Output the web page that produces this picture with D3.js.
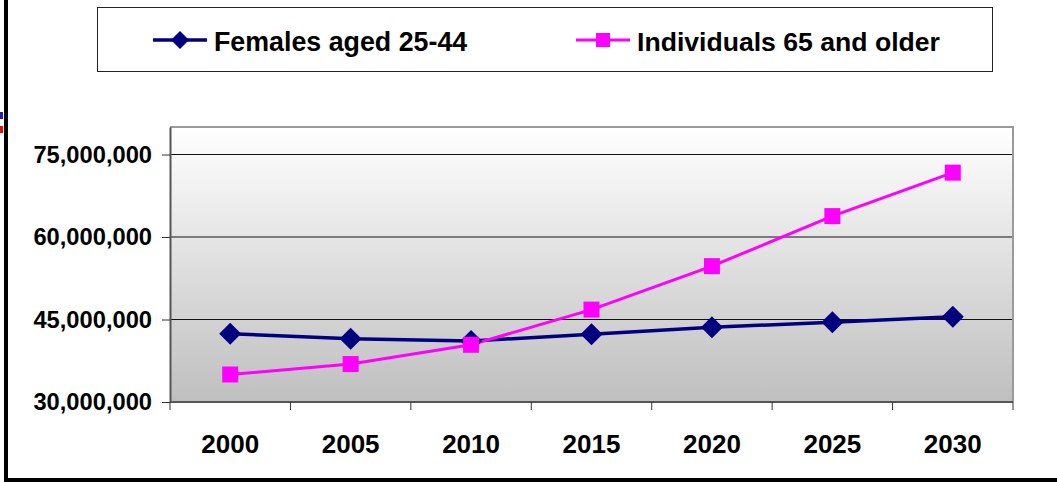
<!DOCTYPE html>
<html>
<head>
<meta charset="utf-8">
<script src="https://cdn.jsdelivr.net/npm/d3@7"></script>
<style>
  html, body { margin: 0; padding: 0; background: #ffffff; }
  svg { display: block; font-family: "Liberation Sans", Arial, sans-serif; }
</style>
</head>
<body>
<svg id="chart" width="1057" height="482"></svg>
<script>
// Population projections, United States
const years = ["2000", "2005", "2010", "2015", "2020", "2025", "2030"];
const females25to44 = [42.4e6, 41.5e6, 41.1e6, 42.3e6, 43.6e6, 44.5e6, 45.5e6];
const aged65plus = [35.0e6, 36.9e6, 40.4e6, 46.8e6, 54.7e6, 63.8e6, 71.7e6];
const yTickValues = [30e6, 45e6, 60e6, 75e6];
const seriesNames = ["Females aged 25-44", "Individuals 65 and older"];

const svg = d3.select("#chart");
const W = 1057, H = 482;
const plot = { left: 170, right: 1013, top: 127, bottom: 402 };

const x = d3.scaleBand().domain(years).range([plot.left, plot.right]).padding(0);
const y = d3.scaleLinear().domain([30e6, 80e6]).range([plot.bottom, plot.top]);

// Frame pieces along the page edges
svg.append("rect").attr("x", 4).attr("y", 0).attr("width", 4).attr("height", H).attr("fill", "#000");
svg.append("rect").attr("x", 4).attr("y", 478).attr("width", W - 4).attr("height", 4).attr("fill", "#000");
svg.append("rect").attr("x", 0).attr("y", 112).attr("width", 3).attr("height", 7).attr("fill", "#1f1fa0");
svg.append("rect").attr("x", 0).attr("y", 126).attr("width", 3).attr("height", 7).attr("fill", "#e01010");

// Plot background gradient
const defs = svg.append("defs");
const grad = defs.append("linearGradient").attr("id", "bg").attr("x1", 0).attr("y1", 0).attr("x2", 0).attr("y2", 1);
grad.append("stop").attr("offset", "0%").attr("stop-color", "#ffffff");
grad.append("stop").attr("offset", "100%").attr("stop-color", "#bfbfbf");

svg.append("rect")
  .attr("x", plot.left).attr("y", plot.top)
  .attr("width", plot.right - plot.left).attr("height", plot.bottom - plot.top)
  .attr("fill", "url(#bg)");

// Gridlines
svg.append("g").selectAll("line").data(yTickValues.filter(d => d > 30e6)).join("line")
  .attr("x1", plot.left).attr("x2", plot.right)
  .attr("y1", d => y(d)).attr("y2", d => y(d))
  .attr("stroke", "#111").attr("stroke-width", 1);

// Plot border (top and right)
svg.append("path")
  .attr("d", `M${plot.left},${plot.top}H${plot.right}V${plot.bottom}`)
  .attr("fill", "none").attr("stroke", "#9a9a9a").attr("stroke-width", 2);

// Y axis
const yAxis = svg.append("g").attr("transform", `translate(${plot.left},0)`)
  .call(d3.axisLeft(y).tickValues(yTickValues).tickFormat(d3.format(",")).tickSizeInner(8).tickSizeOuter(0).tickPadding(10));
yAxis.select(".domain").attr("stroke", "#555").attr("stroke-width", 2);
yAxis.selectAll(".tick line").attr("stroke", "#333");
yAxis.selectAll(".tick text")
  .attr("font-size", "23.7px").attr("font-weight", "bold").attr("fill", "#000")
  .attr("font-family", "'Liberation Sans', Arial, sans-serif");

// X axis: ticks sit on category boundaries
const xAxisG = svg.append("g").attr("transform", `translate(0,${plot.bottom})`);
xAxisG.append("line").attr("x1", plot.left).attr("x2", plot.right).attr("y1", 0).attr("y2", 0)
  .attr("stroke", "#555").attr("stroke-width", 2);
const boundaries = years.map(d => x(d)).concat([x(years[years.length - 1]) + x.bandwidth()]);
xAxisG.selectAll("line.tk").data(boundaries).join("line").attr("class", "tk")
  .attr("x1", d => d).attr("x2", d => d).attr("y1", 0).attr("y2", 8)
  .attr("stroke", "#333").attr("stroke-width", 1);
xAxisG.selectAll("text").data(years).join("text")
  .attr("x", d => x(d) + x.bandwidth() / 2).attr("y", 51)
  .attr("text-anchor", "middle")
  .attr("font-size", "26px").attr("font-weight", "bold").attr("fill", "#000")
  .text(d => d);

// Series lines and markers
const cx = d => x(d) + x.bandwidth() / 2;
const line = d3.line().x((d, i) => cx(years[i])).y(d => y(d));

svg.append("path").datum(females25to44).attr("d", line)
  .attr("fill", "none").attr("stroke", "#000080").attr("stroke-width", 3.5);
svg.append("path").datum(aged65plus).attr("d", line)
  .attr("fill", "none").attr("stroke", "#ff00ff").attr("stroke-width", 3);

const diamond = r => `M0,${-r}L${r},0L0,${r}L${-r},0Z`;

svg.append("g").selectAll("path").data(females25to44).join("path")
  .attr("transform", (d, i) => `translate(${cx(years[i])},${y(d)})`)
  .attr("d", diamond(11)).attr("fill", "#000080");

svg.append("g").selectAll("rect").data(aged65plus).join("rect")
  .attr("x", (d, i) => cx(years[i]) - 8).attr("y", d => y(d) - 8)
  .attr("width", 16).attr("height", 16).attr("fill", "#ff00ff");

// Legend
const legend = svg.append("g");
legend.append("rect").attr("x", 97.5).attr("y", 7.5).attr("width", 895).attr("height", 64)
  .attr("fill", "#fff").attr("stroke", "#222").attr("stroke-width", 1);

const l1 = legend.append("g");
l1.append("line").attr("x1", 153).attr("x2", 207).attr("y1", 40).attr("y2", 40)
  .attr("stroke", "#000080").attr("stroke-width", 3.5);
l1.append("path").attr("transform", "translate(180,40)").attr("d", diamond(9)).attr("fill", "#000080");
l1.append("text").attr("x", 214).attr("y", 51).attr("font-size", "26.8px").attr("font-weight", "bold")
  .attr("fill", "#000").text(seriesNames[0]);

const l2 = legend.append("g");
l2.append("line").attr("x1", 576).attr("x2", 630).attr("y1", 40).attr("y2", 40)
  .attr("stroke", "#ff00ff").attr("stroke-width", 3);
l2.append("rect").attr("x", 596).attr("y", 33).attr("width", 14).attr("height", 14).attr("fill", "#ff00ff");
l2.append("text").attr("x", 637).attr("y", 51).attr("font-size", "26.6px").attr("font-weight", "bold")
  .attr("fill", "#000").text(seriesNames[1]);
</script>
</body>
</html>
